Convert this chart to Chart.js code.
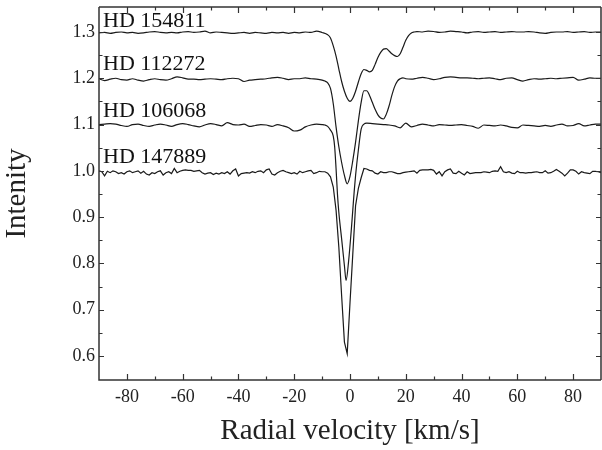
<!DOCTYPE html>
<html><head><meta charset="utf-8">
<script src="https://cdn.jsdelivr.net/npm/chart.js@4.4.0/dist/chart.umd.min.js"></script>
<style>html,body{margin:0;padding:0;background:#fff;}#wrap{width:602px;height:450px;position:relative;}</style>
</head><body><div id="wrap"><canvas id="c" width="602" height="450"></canvas></div>
<script>
// ---- Data ----
const starNames = ['HD 154811', 'HD 112272', 'HD 106068', 'HD 147889'];
const continuumLevels = [1.3, 1.2, 1.1, 1.0];

const vel154811 = [-90,-88,-86,-84,-82,-80,-78,-76,-74,-72,-70,-68,-66,-64,-62,-60,-58,-56,-54,-52,-50,-48,-46,-44,-42,-40,-38,-36,-34,-32,-30,-28,-26,-24,-22,-20,-18,-16,-14,-12,-10,
  -8,-7,-6,-5,-4,-3,-2,-1,0,1,2,3,4,5,6,7,8,9,10,11,12,13,14,15,16,17,18,19,20,21,22,23,24,
  26,28,30,32,34,36,38,40,42,44,46,48,50,52,54,56,58,60,62,64,66,68,70,72,74,76,78,80,82,84,86,88,90];
const int154811 = [1.298,1.299,1.297,1.299,1.300,1.298,1.299,1.297,1.298,1.300,1.301,1.299,1.298,1.299,1.298,1.300,1.301,1.299,1.300,1.302,1.298,1.300,1.299,1.298,1.297,1.298,1.299,1.297,1.299,1.298,1.297,1.299,1.298,1.299,1.297,1.299,1.298,1.300,1.299,1.302,1.299,
  1.294,1.287,1.270,1.248,1.220,1.193,1.172,1.157,1.150,1.157,1.172,1.192,1.210,1.219,1.217,1.214,1.217,1.230,1.245,1.256,1.263,1.264,1.259,1.253,1.249,1.247,1.253,1.267,1.282,1.292,1.298,1.300,1.301,
  1.300,1.302,1.301,1.299,1.300,1.302,1.301,1.300,1.298,1.300,1.301,1.299,1.300,1.301,1.299,1.300,1.301,1.300,1.300,1.301,1.300,1.298,1.297,1.299,1.300,1.300,1.301,1.299,1.300,1.301,1.299,1.300,1.300];

const vel112272 = [-90,-88,-86,-84,-82,-80,-78,-76,-74,-72,-70,-68,-66,-64,-62,-60,-58,-56,-54,-52,-50,-48,-46,-44,-42,-40,-38,-36,-34,-32,-30,-28,-26,-24,-22,-20,-18,-16,-14,-12,-10,
  -9,-8,-7,-6,-5,-4,-3,-2,-1,0,1,2,3,4,5,6,7,8,9,10,11,12,13,14,15,16,17,18,19,20,
  22,24,26,28,30,32,34,36,38,40,42,44,46,48,50,52,54,56,58,60,62,64,66,68,70,72,74,76,78,80,82,84,86,88,90];
const int112272 = [1.199,1.195,1.198,1.200,1.197,1.196,1.199,1.196,1.194,1.197,1.199,1.197,1.196,1.199,1.203,1.201,1.198,1.198,1.197,1.198,1.199,1.198,1.197,1.199,1.200,1.199,1.193,1.196,1.197,1.198,1.199,1.201,1.202,1.200,1.197,1.199,1.199,1.201,1.199,1.198,1.196,
  1.194,1.190,1.178,1.145,1.095,1.052,1.018,0.990,0.972,0.988,1.022,1.062,1.108,1.148,1.173,1.173,1.163,1.148,1.133,1.121,1.114,1.112,1.122,1.140,1.163,1.182,1.194,1.199,1.201,1.199,
  1.198,1.200,1.202,1.200,1.197,1.199,1.202,1.203,1.202,1.201,1.201,1.200,1.199,1.200,1.201,1.199,1.197,1.200,1.201,1.197,1.194,1.197,1.199,1.198,1.199,1.200,1.199,1.200,1.201,1.202,1.196,1.198,1.201,1.200,1.200];

const vel106068 = [-90,-88,-86,-84,-82,-80,-78,-76,-74,-72,-70,-68,-66,-64,-62,-60,-58,-56,-54,-52,-50,-48,-46,-44,-42,-40,-38,-36,-34,-32,-30,-28,-26,-24,-22,-20,-18,-16,-14,-12,-10,
  -9,-8,-7,-6,-5.5,-5,-4.5,-4,-3,-2,-1.4,-0.5,0.5,1,1.5,2,3,4,5,
  6,8,10,12,14,16,18,20,22,24,26,28,30,32,34,36,38,40,42,44,46,48,50,52,54,56,58,60,62,64,66,68,70,72,74,76,78,80,82,84,86,88,90];
const int106068 = [1.100,1.101,1.102,1.101,1.098,1.096,1.100,1.101,1.098,1.096,1.099,1.101,1.099,1.096,1.100,1.102,1.100,1.097,1.095,1.099,1.102,1.100,1.097,1.104,1.100,1.099,1.101,1.096,1.098,1.100,1.099,1.096,1.100,1.097,1.093,1.086,1.088,1.095,1.099,1.101,1.100,
  1.099,1.096,1.088,1.075,1.052,1.005,0.950,0.910,0.853,0.795,0.763,0.805,0.875,0.915,0.955,0.990,1.045,1.090,1.101,
  1.103,1.102,1.101,1.100,1.099,1.097,1.093,1.103,1.095,1.098,1.101,1.099,1.097,1.100,1.099,1.098,1.099,1.100,1.098,1.096,1.092,1.099,1.098,1.097,1.099,1.097,1.094,1.093,1.099,1.098,1.097,1.096,1.098,1.096,1.099,1.101,1.097,1.098,1.102,1.097,1.099,1.101,1.101];

const vel147889 = [-90,-89,-88,-87,-86,-85,-84,-83,-82,-81,-80,-79,-78,-77,-76,-75,-74,-73,-72,-71,-70,-69,-68,-67,-66,-65,-64,-63,-62,-61,
  -60,-59,-58,-57,-56,-55,-54,-53,-52,-51,-50,-49,-48,-47,-46,-45,-44,-43,-42,-41,-40,-39,-38,-37,-36,-35,-34,-33,-32,-31,
  -30,-29,-28,-27,-26,-25,-24,-23,-22,-21,-20,-19,-18,-17,-16,-15,-14,-13,-12,-11,-10,-9,-8,-7,-6,-5,-4,-3,-2,-1,
  0,1,2,3,4,5,6,7,8,9,10,11,12,13,14,15,16,17,18,19,20,21,22,23,24,25,26,27,28,29,
  30,31,32,33,34,35,36,37,38,39,40,41,42,43,44,45,46,47,48,49,50,51,52,53,54,55,56,57,58,59,
  60,61,62,63,64,65,66,67,68,69,70,71,72,73,74,75,76,77,78,79,80,81,82,83,84,85,86,87,88,89,90];
const int147889 = [1.000,0.998,0.989,0.999,0.996,1.000,0.998,0.994,0.996,0.993,
  0.998,1.000,0.996,0.998,1.000,0.995,0.999,0.993,0.991,0.996,
  0.994,0.998,1.000,0.991,0.996,0.998,0.994,1.005,0.996,0.999,
  1.001,1.002,1.001,1.001,0.999,1.000,1.001,0.996,0.993,0.995,
  0.996,0.992,0.995,0.993,0.996,0.994,0.998,0.993,1.000,1.004,
  0.989,0.994,0.995,0.996,0.995,0.998,0.996,0.999,1.000,0.996,
  1.002,1.004,0.993,0.991,0.996,0.999,1.001,0.998,0.996,0.994,
  0.996,0.993,0.999,0.996,0.998,1.000,1.001,0.994,0.996,0.999,
  0.998,0.998,0.995,
  0.987,0.965,0.915,0.835,0.730,0.630,0.605,0.715,0.820,0.925,0.962,0.985,1.005,
  1.004,1.001,1.000,0.995,0.993,0.998,0.996,0.996,0.998,0.998,
  0.996,0.994,0.994,0.996,0.997,0.998,0.999,1.000,0.995,1.001,
  1.002,1.002,1.002,1.003,1.001,0.993,0.998,0.989,0.998,1.002,
  1.004,0.995,0.994,0.999,0.995,0.991,0.998,0.994,0.995,0.996,
  0.996,0.996,0.998,0.997,0.996,0.999,1.000,0.999,1.009,0.998,
  0.996,0.998,0.995,0.994,0.999,0.996,0.996,0.995,0.996,0.996,
  0.997,0.998,0.996,0.996,1.000,0.995,0.996,0.999,1.003,0.999,
  0.995,0.989,0.995,1.002,1.002,0.999,0.993,0.998,0.996,0.995,
  0.994,0.999,0.999,0.998,0.996];

const xTickValues = [-80,-60,-40,-20,0,20,40,60,80];
const xMinorTickValues = [-70,-50,-30,-10,10,30,50,70];
const yTickValues = [0.6,0.7,0.8,0.9,1.0,1.1,1.2,1.3];
const yMinorTickValues = [0.65,0.75,0.85,0.95,1.05,1.15,1.25];

// ---- Build chart ----
function zip(v, f) { const n = Math.min(v.length, f.length); const out = []; for (let i = 0; i < n; i++) out.push({x: v[i], y: f[i]}); return out; }
const seriesVel = [vel154811, vel112272, vel106068, vel147889];
const seriesInt = [int154811, int112272, int106068, int147889];

const datasets = starNames.map((name, i) => ({
  label: name,
  data: zip(seriesVel[i], seriesInt[i]),
  borderColor: '#1a1a1a',
  borderWidth: 1.2,
  pointRadius: 0,
  fill: false,
  tension: i === 3 ? 0 : 0.25,
  cubicInterpolationMode: i === 3 ? 'default' : 'monotone'
}));

const SERIF = "'Liberation Serif', 'DejaVu Serif', serif";

const framePlugin = {
  id: 'frame',
  afterDatasetsDraw(chart) {
    const {ctx, chartArea: a, scales: {x, y}} = chart;
    ctx.save();
    ctx.strokeStyle = '#333';
    ctx.lineWidth = 1.5;
    ctx.beginPath();
    ctx.moveTo(a.left, a.top); ctx.lineTo(a.left, a.bottom); ctx.lineTo(a.right, a.bottom);
    ctx.moveTo(a.left, a.top); ctx.lineTo(a.right, a.top);
    ctx.moveTo(a.right, a.top); ctx.lineTo(a.right, a.bottom);
    ctx.stroke();
    ctx.lineWidth = 1.2;
    ctx.beginPath();
    const xt = (vals, len) => vals.forEach(v => {
      const px = Math.round(x.getPixelForValue(v)) + 0.5;
      ctx.moveTo(px, a.bottom); ctx.lineTo(px, a.bottom - len);
      ctx.moveTo(px, a.top); ctx.lineTo(px, a.top + len);
    });
    const yt = (vals, len) => vals.forEach(v => {
      const py = Math.round(y.getPixelForValue(v)) + 0.5;
      ctx.moveTo(a.left, py); ctx.lineTo(a.left + len, py);
      ctx.moveTo(a.right, py); ctx.lineTo(a.right - len, py);
    });
    xt(xTickValues, 6); xt(xMinorTickValues, 3.5);
    yt(yTickValues, 5); yt(yMinorTickValues, 3.5);
    ctx.stroke();
    // star labels
    ctx.fillStyle = '#111';
    ctx.font = "22px " + SERIF;
    ctx.textAlign = 'left';
    ctx.textBaseline = 'alphabetic';
    const gaps = [5, 8, 8, 8];
    starNames.forEach((name, i) => {
      ctx.fillText(name, a.left + 4, y.getPixelForValue(continuumLevels[i]) - gaps[i]);
    });
    ctx.restore();
  }
};

new Chart(document.getElementById('c'), {
  type: 'line',
  data: { datasets },
  options: {
    responsive: false,
    devicePixelRatio: 1,
    animation: false,
    parsing: false,
    layout: { padding: { top: 7, right: 1, bottom: 0, left: 0 } },
    plugins: { legend: { display: false }, tooltip: { enabled: false } },
    scales: {
      x: {
        type: 'linear', min: -90, max: 90,
        grid: { display: false, drawTicks: false },
        border: { display: false },
        afterBuildTicks: s => { s.ticks = xTickValues.map(v => ({value: v})); },
        afterFit: s => { s.height = 70; s.paddingLeft = 0; s.paddingRight = 0; },
        ticks: { padding: 6, color: '#222', font: { family: SERIF, size: 18 }, maxRotation: 0, autoSkip: false },
        title: { display: true, text: 'Radial velocity [km/s]', color: '#222', font: { family: SERIF, size: 29 }, padding: { top: 0, bottom: 1 } }
      },
      y: {
        type: 'linear', min: 0.548, max: 1.354,
        grid: { display: false, drawTicks: false },
        border: { display: false },
        afterBuildTicks: s => { s.ticks = yTickValues.map(v => ({value: v})); },
        afterFit: s => { s.width = 99; s.paddingTop = 0; s.paddingBottom = 0; },
        ticks: { padding: 4, color: '#222', font: { family: SERIF, size: 18 }, callback: v => Number(v).toFixed(1), autoSkip: false },
        title: { display: true, text: 'Intenity', color: '#222', font: { family: SERIF, size: 29 }, padding: { top: 0, bottom: 0 } }
      }
    }
  },
  plugins: [framePlugin]
});
</script></body></html>
